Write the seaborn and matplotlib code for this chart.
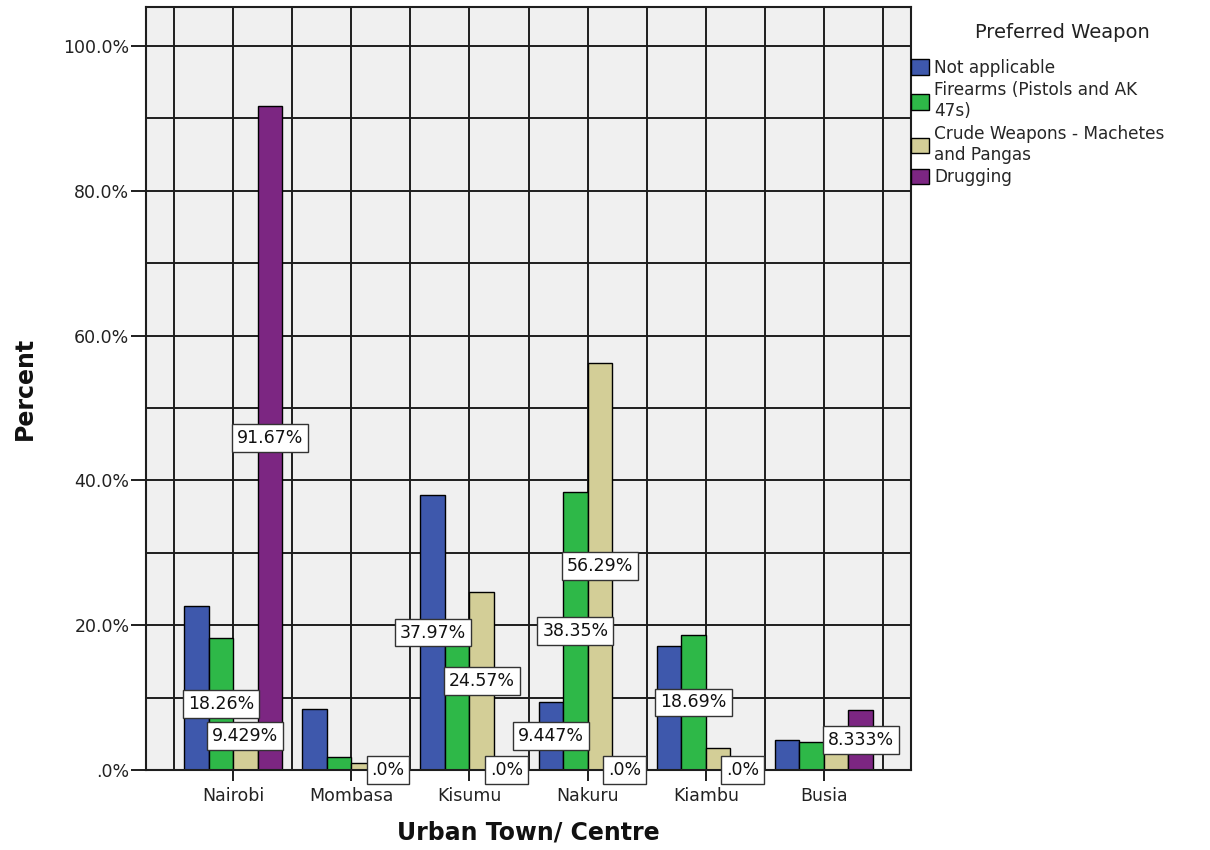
import pandas as pd
import seaborn as sns
import matplotlib.pyplot as plt
from matplotlib.patches import Patch
from matplotlib.ticker import MultipleLocator, FixedLocator, FuncFormatter

# Urban towns on the x axis
towns = ["Nairobi", "Mombasa", "Kisumu", "Nakuru", "Kiambu", "Busia"]

# Preferred weapon series (percent within each weapon)
weapons = ["Not applicable", "Firearms (Pistols and AK 47s)",
           "Crude Weapons - Machetes and Pangas", "Drugging"]
legend_labels = ["Not applicable", "Firearms (Pistols and AK\n47s)",
                 "Crude Weapons - Machetes\nand Pangas", "Drugging"]
colors = ["#3E58AC", "#2EB848", "#D3CE97", "#7C2682"]

not_applicable = [22.7, 8.4, 37.97, 9.447, 17.1, 4.1]
firearms = [18.26, 1.84, 18.96, 38.35, 18.69, 3.9]
crude_weapons = [5.8, 1.0, 24.57, 56.29, 3.0, 5.5]
drugging = [91.67, 0.0, 0.0, 0.0, 0.0, 8.333]

# Data labels shown on the chart: town, series index, text
label_towns = ["Nairobi", "Nairobi", "Nairobi", "Mombasa", "Kisumu", "Kisumu",
               "Kisumu", "Nakuru", "Nakuru", "Nakuru", "Nakuru", "Kiambu",
               "Kiambu", "Busia"]
label_series = [1, 2, 3, 3, 0, 2, 3, 0, 1, 2, 3, 1, 3, 3]
label_texts = ["18.26%", "9.429%", "91.67%", ".0%", "37.97%", "24.57%", ".0%",
               "9.447%", "38.35%", "56.29%", ".0%", "18.69%", ".0%", "8.333%"]

rows = []
for w, vals in zip(weapons, [not_applicable, firearms, crude_weapons, drugging]):
    for t, v in zip(towns, vals):
        rows.append({"town": t, "weapon": w, "percent": v})
df = pd.DataFrame(rows)

sns.set_style("white")
plt.rcParams['font.family'] = ['DejaVu Sans']

fig, ax = plt.subplots(figsize=(12.1, 8.5), dpi=100)
fig.subplots_adjust(left=0.1207, right=0.7529, bottom=0.0941, top=0.9918)
ax.set_facecolor("#F0F0F0")

sns.barplot(data=df, x="town", y="percent", hue="weapon", order=towns,
            hue_order=weapons, palette=colors, width=0.83, saturation=1,
            edgecolor="black", linewidth=1, errorbar=None, ax=ax, legend=False)

ax.set_xlim(-0.737, 5.737)
ax.set_ylim(0, 105.4)
ax.yaxis.set_major_locator(MultipleLocator(20))
ax.yaxis.set_minor_locator(MultipleLocator(10))
ax.xaxis.set_minor_locator(FixedLocator([i - 0.5 for i in range(len(towns) + 1)]))
ax.yaxis.set_major_formatter(FuncFormatter(lambda v, p: f"{v:.1f}%".lstrip("0") if v < 1 else f"{v:.1f}%"))

ax.set_axisbelow(True)
ax.grid(which="both", color="#1e1e1e", linewidth=1.4)
ax.tick_params(which="major", axis="y", left=True, length=10.5, width=1.4,
               color="#1e1e1e", pad=1.5, labelsize=12.5, labelcolor="#222222")
ax.tick_params(which="major", axis="x", bottom=True, length=8, width=1.4,
               color="#1e1e1e", pad=4, labelsize=12.5, labelcolor="#222222")
ax.tick_params(which="minor", length=0)
for s in ax.spines.values():
    s.set_color("#1e1e1e")
    s.set_linewidth(1.5)

ax.set_xlabel("Urban Town/ Centre", fontsize=17, fontweight="bold", color="#111111")
ax.set_ylabel("Percent", fontsize=17, fontweight="bold", color="#111111")
ax.xaxis.set_label_coords(0.5, -0.066)
ax.yaxis.set_label_coords(-0.143, 0.5)

# data labels at the middle of each labelled bar
for t, s, txt in zip(label_towns, label_series, label_texts):
    bar = ax.containers[s][towns.index(t)]
    xc = bar.get_x() + bar.get_width() / 2
    val = float(txt.rstrip("%"))
    ax.text(xc, val / 2, txt, ha="center", va="center", fontsize=12.5,
            color="#111111", zorder=5, clip_on=False,
            bbox=dict(boxstyle="square,pad=0.28", fc="white", ec="#333333", lw=1))

handles = [Patch(facecolor=c, edgecolor="black", linewidth=1) for c in colors]
ax.legend(handles, legend_labels, loc="upper left", bbox_to_anchor=(1.0, 0.932),
          frameon=False, fontsize=12.2, handlelength=1.05, handleheight=1.05,
          handletextpad=0.3, labelspacing=0.27, borderaxespad=0, borderpad=0)
fig.text(1062 / 1210, 1 - 32 / 850, "Preferred Weapon", ha="center", va="center",
         fontsize=14, color="#222222")

fig.savefig("out.png", dpi=100)
